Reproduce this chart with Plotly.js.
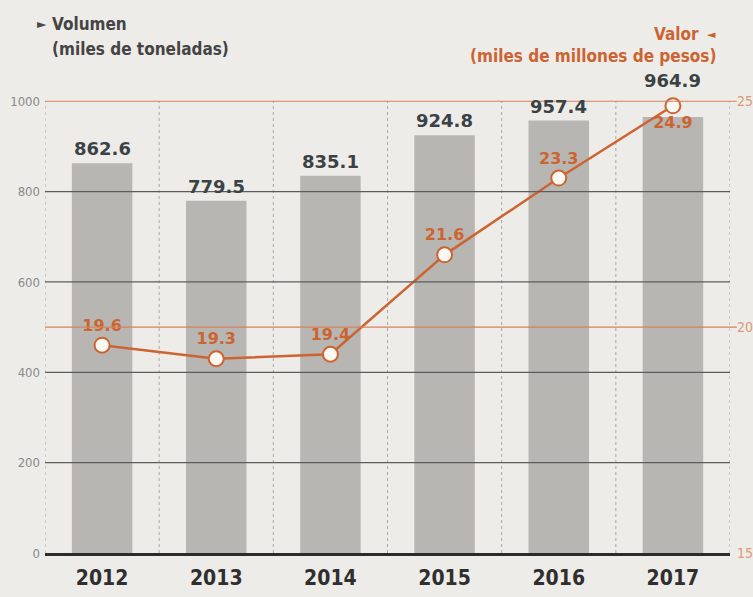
<!DOCTYPE html>
<html>
<head>
<meta charset="utf-8">
<script src="https://cdn.plot.ly/plotly-3.0.1.min.js"></script>
<style>html,body{margin:0;padding:0;background:#eeece8;}#chart{width:753px;height:597px;}</style>
</head>
<body>
<div id="chart"></div>
<script>
const years = ['2012','2013','2014','2015','2016','2017'];
const volumen = [862.6, 779.5, 835.1, 924.8, 957.4, 964.9];
const valor = [19.6, 19.3, 19.4, 21.6, 23.3, 24.9];
const leftTicks = [0, 200, 400, 600, 800, 1000];
const rightTicks = [15, 20, 25];
const darkGrid = [200, 400, 600, 800];
const orangeGrid = [20, 25];

const orange = '#cc6431';
const cond = '"DejaVu Sans Condensed", "DejaVu Sans", sans-serif';
const wide = '"DejaVu Sans", sans-serif';

const bars = {
  type: 'bar', x: years, y: volumen, width: 0.53,
  marker: {color: '#b8b6b3'},
  hoverinfo: 'skip'
};
const line = {
  type: 'scatter', mode: 'lines+markers+text', x: years, y: valor, yaxis: 'y2',
  line: {color: orange, width: 2.5},
  marker: {size: 15, color: '#fbf7f2', line: {color: orange, width: 2}},
  text: valor.map(v => v.toFixed(1)),
  textposition: valor.map((v, i) => i === valor.length - 1 ? 'bottom center' : 'top center'),
  textfont: {family: wide, size: 16, color: orange, weight: 'bold'},
  cliponaxis: false, hoverinfo: 'skip'
};

const shapes = [];
for (let i = 0; i <= years.length; i++) {
  shapes.push({type: 'line', xref: 'x', yref: 'y', x0: i - 0.5, x1: i - 0.5, y0: 0, y1: 1000,
    line: {color: '#a9a7a4', width: 1, dash: 'dot'}, layer: 'below'});
}
darkGrid.forEach(v => shapes.push({type: 'line', xref: 'paper', yref: 'y', x0: 0, x1: 1, y0: v, y1: v,
  line: {color: '#5c5c5c', width: 1.2}, layer: 'above'}));
orangeGrid.forEach(v => shapes.push({type: 'line', xref: 'paper', yref: 'y2', x0: 0, x1: 1.01, y0: v, y1: v,
  line: {color: '#d5825c', width: 1.2}, layer: 'above'}));

const barLabels = volumen.map((v, i) => ({
  xref: 'x', yref: 'y', x: i, y: v, xanchor: 'center', yanchor: 'bottom',
  yshift: i === volumen.length - 1 ? 24 : 2, showarrow: false,
  text: v.toFixed(1), font: {family: wide, size: 18, color: '#3b4246', weight: 'bold'}
}));

const layout = {
  width: 753, height: 597,
  paper_bgcolor: '#eeece8', plot_bgcolor: '#eeece8',
  margin: {l: 45, r: 23, t: 99, b: 44},
  showlegend: false,
  xaxis: {
    type: 'category', range: [-0.5, 5.5], showgrid: false,
    showline: true, linecolor: '#2b2b2b', linewidth: 3, ticks: '',
    tickfont: {family: cond, size: 21, color: '#2f2f2f', weight: 'bold'},
    ticklabelstandoff: 4
  },
  yaxis: {
    range: [0, 1005], tickvals: leftTicks, ticktext: leftTicks.map(String),
    showgrid: false, zeroline: false, showline: false,
    tickfont: {family: cond, size: 13, color: '#8a8a8a'},
    ticks: '', ticklabelstandoff: 4
  },
  yaxis2: {
    overlaying: 'y', side: 'right', range: [15, 25.05], tickvals: rightTicks,
    showgrid: false, zeroline: false, showline: false,
    tickfont: {family: cond, size: 14, color: '#dc9a7a'},
    ticks: '', ticklabelstandoff: 6
  },
  shapes: shapes,
  annotations: barLabels.concat([
    {xref: 'paper', yref: 'paper', x: -0.014, y: 1.165, xanchor: 'left', yanchor: 'middle', showarrow: false,
      text: '►', font: {family: wide, size: 12, color: '#4a4a4a'}},
    {xref: 'paper', yref: 'paper', x: 0.008, y: 1.165, xanchor: 'left', yanchor: 'middle', showarrow: false,
      text: 'Volumen', font: {family: cond, size: 17, color: '#444444', weight: 'bold'}},
    {xref: 'paper', yref: 'paper', x: 0.008, y: 1.11, xanchor: 'left', yanchor: 'middle', showarrow: false,
      text: '(miles de toneladas)', font: {family: cond, size: 17, color: '#444444', weight: 'bold'}},
    {xref: 'paper', yref: 'paper', x: 0.958, y: 1.143, xanchor: 'right', yanchor: 'middle', showarrow: false,
      text: 'Valor', font: {family: cond, size: 17, color: orange, weight: 'bold'}},
    {xref: 'paper', yref: 'paper', x: 0.982, y: 1.143, xanchor: 'right', yanchor: 'middle', showarrow: false,
      text: '◄', font: {family: wide, size: 11, color: orange}},
    {xref: 'paper', yref: 'paper', x: 0.982, y: 1.095, xanchor: 'right', yanchor: 'middle', showarrow: false,
      text: '(miles de millones de pesos)', font: {family: cond, size: 17, color: orange, weight: 'bold'}}
  ])
};

Plotly.newPlot('chart', [bars, line], layout, {displayModeBar: false, staticPlot: true});
</script>
</body>
</html>
